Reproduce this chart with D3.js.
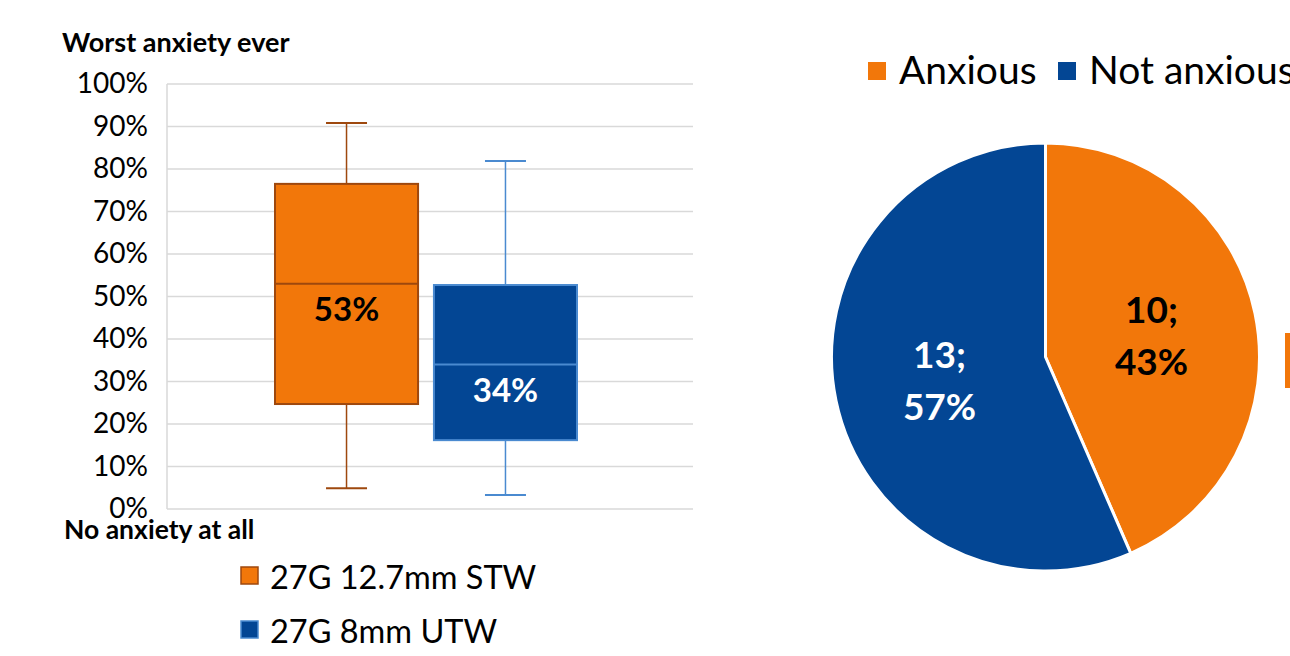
<!DOCTYPE html>
<html>
<head>
<meta charset="utf-8">
<script src="https://cdn.jsdelivr.net/npm/d3@7"></script>
<style>
  html, body { margin: 0; padding: 0; background: #fff; }
  svg { display: block; font-family: Lato, "Open Sans", sans-serif; }
</style>
</head>
<body>
<svg id="chart" width="1290" height="656"></svg>
<script>
// Box plot series (share of worst anxiety, %)
const seriesNames = ["27G 12.7mm STW", "27G 8mm UTW"];
const whiskerLow  = [4.9, 3.3];
const q1          = [24.7, 16.2];
const medians     = [53, 34];
const q3          = [76.5, 52.7];
const whiskerHigh = [90.8, 81.9];
const yTicks = [0, 10, 20, 30, 40, 50, 60, 70, 80, 90, 100];

// Pie slices
const pieLabels = ["Anxious", "Not anxious"];
const pieCounts = [10, 13];

const fills   = ["#F2770A", "#034694"];
const strokes = ["#9E480E", "#4A8AD0"];
const labelColors = ["#000", "#fff"];

const svg = d3.select("#chart");

// ---------- Box plot ----------
const plot = { left: 167, right: 693, top: 84, bottom: 509 };
const y = d3.scaleLinear().domain([0, 100]).range([plot.bottom, plot.top]);
const x = d3.scaleBand().domain(seriesNames).range([275, 577]).paddingInner(0.1);

const grid = svg.append("g");
grid.selectAll("line").data(yTicks).join("line")
  .attr("x1", plot.left).attr("x2", plot.right)
  .attr("y1", d => y(d)).attr("y2", d => y(d))
  .attr("stroke", "#d9d9d9").attr("stroke-width", 1.5);
grid.append("line")
  .attr("x1", plot.left).attr("x2", plot.left)
  .attr("y1", plot.top).attr("y2", plot.bottom)
  .attr("stroke", "#d9d9d9").attr("stroke-width", 1.5);

const yAxis = d3.axisLeft(y).tickValues(yTicks).tickFormat(d => d + "%").tickSize(0).tickPadding(19);
const ya = svg.append("g").attr("transform", `translate(${plot.left},0)`).call(yAxis);
ya.select(".domain").remove();
ya.selectAll("text").attr("font-size", 28).attr("fill", "#000")
  .attr("font-family", "Lato, 'Open Sans', sans-serif");

svg.append("text").attr("x", 62).attr("y", 52).text("Worst anxiety ever")
  .attr("font-size", 27).attr("font-weight", "bold");
svg.append("text").attr("x", 64).attr("y", 539).text("No anxiety at all")
  .attr("font-size", 26.5).attr("font-weight", "bold");

const boxes = svg.append("g").selectAll("g").data(seriesNames).join("g");
boxes.each(function(name, i) {
  const g = d3.select(this);
  const x0 = x(name), bw = x.bandwidth(), cx = x0 + bw / 2;
  const capW = 41;
  // whiskers
  g.append("line").attr("x1", cx).attr("x2", cx).attr("y1", y(whiskerHigh[i])).attr("y2", y(q3[i]))
    .attr("stroke", strokes[i]).attr("stroke-width", 1.5);
  g.append("line").attr("x1", cx).attr("x2", cx).attr("y1", y(q1[i])).attr("y2", y(whiskerLow[i]))
    .attr("stroke", strokes[i]).attr("stroke-width", 1.5);
  g.append("line").attr("x1", cx - capW / 2).attr("x2", cx + capW / 2)
    .attr("y1", y(whiskerHigh[i])).attr("y2", y(whiskerHigh[i]))
    .attr("stroke", strokes[i]).attr("stroke-width", 2);
  g.append("line").attr("x1", cx - capW / 2).attr("x2", cx + capW / 2)
    .attr("y1", y(whiskerLow[i])).attr("y2", y(whiskerLow[i]))
    .attr("stroke", strokes[i]).attr("stroke-width", 2);
  // box
  g.append("rect").attr("x", x0).attr("y", y(q3[i])).attr("width", bw)
    .attr("height", y(q1[i]) - y(q3[i]))
    .attr("fill", fills[i]).attr("stroke", strokes[i]).attr("stroke-width", 2);
  g.append("line").attr("x1", x0).attr("x2", x0 + bw)
    .attr("y1", y(medians[i])).attr("y2", y(medians[i]))
    .attr("stroke", strokes[i]).attr("stroke-width", 2);
  g.append("text").attr("x", cx).attr("y", y(medians[i]) + 37)
    .attr("text-anchor", "middle").attr("font-size", 33).attr("font-weight", "bold")
    .attr("fill", labelColors[i]).text(medians[i] + "%");
});

// Box plot legend
const leg = svg.append("g").selectAll("g").data(seriesNames).join("g")
  .attr("transform", (d, i) => `translate(241,${567 + i * 54})`);
leg.append("rect").attr("width", 17).attr("height", 17)
  .attr("fill", (d, i) => fills[i]).attr("stroke", (d, i) => strokes[i]).attr("stroke-width", 1.5);
leg.append("text").attr("x", 29).attr("y", 22).attr("font-size", 32.5).attr("fill", "#000").text(d => d);

// ---------- Pie ----------
const total = d3.sum(pieCounts);
const cx = 1045.5, cy = 357, r = 214;
const pie = d3.pie().sort(null)(pieCounts);
const arc = d3.arc().innerRadius(0).outerRadius(r);
const pg = svg.append("g").attr("transform", `translate(${cx},${cy})`);
pg.selectAll("path").data(pie).join("path")
  .attr("d", arc).attr("fill", (d, i) => fills[i])
  .attr("stroke", "#fff").attr("stroke-width", 3).attr("stroke-linejoin", "round");

const labelPos = [[106, -20], [-106, 25]];
pie.forEach((d, i) => {
  const t = pg.append("text").attr("text-anchor", "middle")
    .attr("font-size", 37).attr("font-weight", "bold").attr("fill", labelColors[i]);
  t.append("tspan").attr("x", labelPos[i][0]).attr("y", labelPos[i][1] - 14).text(pieCounts[i] + ";");
  t.append("tspan").attr("x", labelPos[i][0]).attr("y", labelPos[i][1] + 38)
    .text(Math.round(pieCounts[i] / total * 100) + "%");
});

// Pie legend
const pLegX = [868, 1058];
pieLabels.forEach((name, i) => {
  svg.append("rect").attr("x", pLegX[i]).attr("y", 62).attr("width", 18).attr("height", 18)
    .attr("fill", fills[i]);
  svg.append("text").attr("x", pLegX[i] + 31).attr("y", 84).attr("font-size", 39)
    .attr("fill", "#000").text(name);
});

// Partially visible shape at the right edge
svg.append("rect").attr("x", 1285).attr("y", 333).attr("width", 20).attr("height", 55).attr("fill", fills[0]);
</script>
</body>
</html>
